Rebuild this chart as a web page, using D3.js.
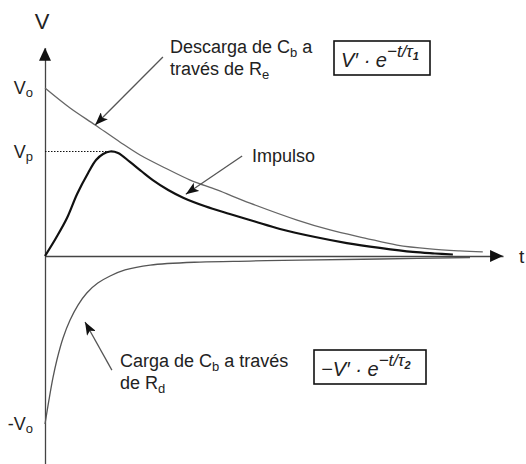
<!DOCTYPE html>
<html>
<head>
<meta charset="utf-8">
<script src="https://cdn.jsdelivr.net/npm/d3@7"></script>
<style>
  body { margin: 0; background: #fff; }
  svg { display: block; }
  text { font-family: "Liberation Sans", Arial, sans-serif; fill: #222; }
</style>
</head>
<body>
<svg id="chart"></svg>
<script>
// values: t in arbitrary units, V relative to Vo
const dischargeT = [0, 0.57, 1.14, 1.70, 2.16, 2.73, 3.30, 3.91, 4.66, 5.73, 6.48, 7.27, 8.00, 8.75, 9.43, 9.95]
const dischargeV = [1.0, 0.881, 0.780, 0.679, 0.601, 0.524, 0.452, 0.393, 0.315, 0.214, 0.155, 0.107, 0.065, 0.042, 0.030, 0.024]

const impulseT = [0, 0.25, 0.50, 0.73, 0.98, 1.16, 1.32, 1.48, 1.66, 1.93, 2.20, 2.45, 2.80, 3.14, 3.64, 4.20, 4.77, 5.34, 6.14, 6.86, 7.61, 8.36, 8.86, 9.27]
const impulseV = [0, 0.107, 0.226, 0.369, 0.494, 0.571, 0.607, 0.622, 0.613, 0.560, 0.503, 0.452, 0.393, 0.347, 0.296, 0.250, 0.205, 0.161, 0.113, 0.077, 0.048, 0.024, 0.015, 0.009]

const chargeT = [0, 0.09, 0.18, 0.27, 0.41, 0.57, 0.75, 0.95, 1.20, 1.48, 1.82, 2.39, 3.52, 4.66, 5.80, 7.61, 9.66]
const chargeV = [-1.0, -0.857, -0.726, -0.619, -0.488, -0.381, -0.292, -0.220, -0.161, -0.119, -0.083, -0.054, -0.036, -0.030, -0.024, -0.018, -0.009]

// labels on the V axis
const levelValues = [1, 0.622, -1]
const levelNames = ["V", "V", "-V"]
const levelSubs = ["o", "p", "o"]

// annotation arrows: tail and tip in (t, V)
const arrowTail = [[2.68, 1.185], [4.48, 0.595], [1.52, -0.679]]
const arrowTip = [[1.14, 0.78], [3.2, 0.368], [0.91, -0.393]]

const width = 526
const height = 464
const tEnd = 10.41
const vEnd = 1.24

const x = d3.scaleLinear().domain([0, 10]).range([45, 485])
const y = d3.scaleLinear().domain([-1, 1]).range([424, 88])

const svg = d3.select("#chart")
  .attr("width", width)
  .attr("height", height)

const defs = svg.append("defs")
defs.append("marker")
  .attr("id", "head")
  .attr("markerUnits", "userSpaceOnUse")
  .attr("markerWidth", 14)
  .attr("markerHeight", 10)
  .attr("refX", 13)
  .attr("refY", 5)
  .attr("orient", "auto")
  .append("path")
  .attr("d", "M0,0 L13,5 L0,10 L3,5 Z")
  .attr("fill", "#111")

// axes, without ticks
const yAxisScale = d3.scaleLinear().domain([-vEnd, vEnd]).range([y(-vEnd), y(vEnd)])
const xAxisScale = d3.scaleLinear().domain([0, tEnd]).range([x(0), x(tEnd)])

svg.append("g")
  .attr("transform", `translate(${x(0)},0)`)
  .call(d3.axisLeft(yAxisScale).tickValues([]).tickSizeOuter(0))
svg.append("g")
  .attr("transform", `translate(0,${y(0)})`)
  .call(d3.axisBottom(xAxisScale).tickValues([]).tickSizeOuter(0))
svg.selectAll(".domain").attr("stroke", "#444").attr("stroke-width", 1.3)

// axis arrow heads
svg.append("path")
  .attr("d", `M${x(0)},${y(vEnd)} L${x(0) - 6},${y(vEnd) + 13} L${x(0) + 6},${y(vEnd) + 13} Z`)
  .attr("fill", "#111")
svg.append("path")
  .attr("d", `M${x(tEnd)},${y(0)} L${x(tEnd) - 13},${y(0) - 6} L${x(tEnd) - 13},${y(0) + 6} Z`)
  .attr("fill", "#111")

svg.append("text")
  .attr("x", x(0) - 3).attr("y", 29)
  .attr("text-anchor", "middle")
  .attr("font-size", 22)
  .text("V")
svg.append("text")
  .attr("x", x(tEnd) + 16).attr("y", y(0) + 7)
  .attr("font-size", 19)
  .text("t")

// level labels
levelValues.forEach((v, i) => {
  const t = svg.append("text")
    .attr("x", x(0) - 12)
    .attr("y", y(v) + 6)
    .attr("text-anchor", "end")
    .attr("font-size", 18)
  t.append("tspan").text(levelNames[i])
  t.append("tspan").attr("font-size", 13).attr("dy", 3).text(levelSubs[i])
})

// dotted Vp line
const peak = d3.greatestIndex(impulseV)
svg.append("line")
  .attr("x1", x(0)).attr("x2", x(impulseT[peak]))
  .attr("y1", y(impulseV[peak])).attr("y2", y(impulseV[peak]))
  .attr("stroke", "#111")
  .attr("stroke-width", 1)
  .attr("stroke-dasharray", "1.5,1.5")

const line = d3.line()
  .x(d => x(d[0]))
  .y(d => y(d[1]))
  .curve(d3.curveCatmullRom.alpha(0.5))

svg.append("path")
  .datum(d3.zip(dischargeT, dischargeV))
  .attr("d", line)
  .attr("fill", "none")
  .attr("stroke", "#666")
  .attr("stroke-width", 1.3)

svg.append("path")
  .datum(d3.zip(chargeT, chargeV))
  .attr("d", line)
  .attr("fill", "none")
  .attr("stroke", "#555")
  .attr("stroke-width", 1.3)

svg.append("path")
  .datum(d3.zip(impulseT, impulseV))
  .attr("d", line)
  .attr("fill", "none")
  .attr("stroke", "#111")
  .attr("stroke-width", 2.2)

// annotation arrows
arrowTail.forEach((tail, i) => {
  svg.append("line")
    .attr("x1", x(tail[0])).attr("y1", y(tail[1]))
    .attr("x2", x(arrowTip[i][0])).attr("y2", y(arrowTip[i][1]))
    .attr("stroke", "#555")
    .attr("stroke-width", 1.3)
    .attr("marker-end", "url(#head)")
})

// text with subscripts: parts are plain strings or [subscript]
function label(px, py, parts) {
  const t = svg.append("text").attr("x", px).attr("y", py).attr("font-size", 18)
  let shift = 0
  parts.forEach(p => {
    if (Array.isArray(p)) {
      t.append("tspan").attr("font-size", 13).attr("dy", 4 - shift).text(p[0])
      shift = 4
    } else {
      t.append("tspan").attr("dy", -shift).text(p)
      shift = 0
    }
  })
}

label(170, 53, ["Descarga de C", ["b"], " a"])
label(170, 75, ["través de R", ["e"]])
label(252, 162, ["Impulso"])
label(120, 367, ["Carga de C", ["b"], " a través"])
label(120, 389, ["de R", ["d"]])

// formula boxes
function formula(left, top, w, sign, idx) {
  svg.append("rect")
    .attr("x", left).attr("y", top)
    .attr("width", w).attr("height", 34)
    .attr("fill", "#fff")
    .attr("stroke", "#111")
    .attr("stroke-width", 1.6)
  const t = svg.append("text")
    .attr("x", left + 7).attr("y", top + 26)
    .attr("font-family", "Liberation Serif, serif")
    .attr("font-style", "italic")
    .attr("font-size", 20)
  t.append("tspan").text(sign + "V\u2032 \u00b7 e")
  t.append("tspan").attr("font-size", 17).attr("dy", -10).text("\u2212t/\u03c4")
  t.append("tspan").attr("font-size", 11).attr("font-weight", "bold").attr("dy", 3).text(idx)
}

formula(334, 41, 96, "", "1")
formula(314, 350, 112, "\u2212", "2")
</script>
</body>
</html>
